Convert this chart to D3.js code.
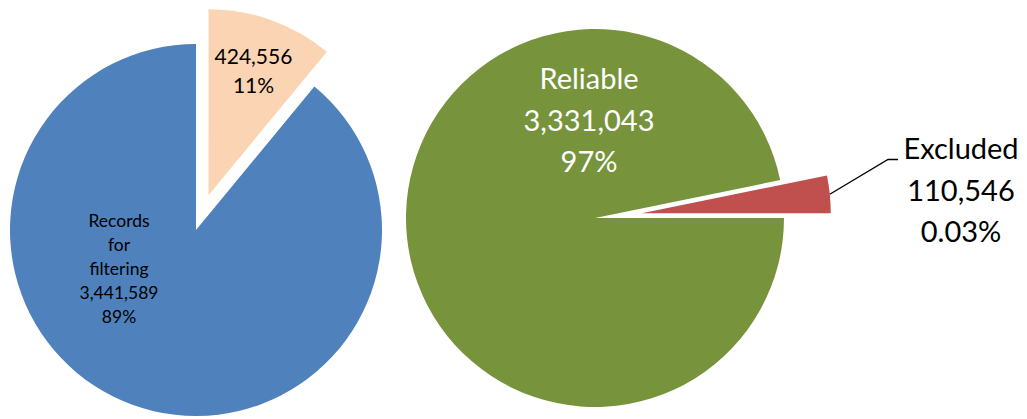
<!DOCTYPE html>
<html>
<head>
<meta charset="utf-8">
<script src="https://cdn.jsdelivr.net/npm/d3@7"></script>
<style>
  html, body { margin: 0; padding: 0; background: #fff; }
  svg { display: block; }
  text { font-family: Lato, "Open Sans", sans-serif; }
</style>
</head>
<body>
<svg id="chart" width="1027" height="419"></svg>
<script>
// Records split: records sent to filtering vs. the rest
const filterNames = ["", "Records|for|filtering"];
const filterValues = [424556, 3441589];
const filterPercents = ["11%", "89%"];
const filterColors = ["#FBD4B4", "#4F81BD"];

// Filtering outcome: reliable vs. excluded
const outcomeNames = ["Reliable", "Excluded"];
const outcomeValues = [3331043, 110546];
const outcomePercents = ["97%", "0.03%"];
const outcomeColors = ["#77933C", "#C0504D"];

const fmt = d3.format(",");
const svg = d3.select("#chart");

function drawPie(cfg) {
  const pie = d3.pie().sort(null).value(d => d.value)
    .startAngle(cfg.start).endAngle(cfg.start + 2 * Math.PI);
  const arcs = pie(cfg.rows);
  const arc = d3.arc().innerRadius(0).outerRadius(cfg.r);
  const g = svg.append("g").attr("transform", `translate(${cfg.cx},${cfg.cy})`);

  const slice = g.selectAll("g.slice").data(arcs).join("g")
    .attr("class", "slice")
    .attr("transform", d => {
      const off = d.data.explode || 0;
      const a = (d.startAngle + d.endAngle) / 2;
      return `translate(${off * Math.sin(a)},${-off * Math.cos(a)})`;
    });

  slice.append("path").attr("d", arc).attr("fill", d => d.data.color);
  return { g, slice, arcs };
}

// Left pie
const left = drawPie({
  cx: 196, cy: 230, r: 186, start: 0,
  rows: filterValues.map((v, i) => ({
    name: filterNames[i], value: v, pct: filterPercents[i],
    color: filterColors[i], explode: i === 0 ? 37 : 0
  }))
});

// Right pie
const right = drawPie({
  cx: 595, cy: 218, r: 189, start: Math.PI / 2,
  rows: outcomeValues.map((v, i) => ({
    name: outcomeNames[i], value: v, pct: outcomePercents[i],
    color: outcomeColors[i], explode: i === 1 ? 47 : 0
  }))
});

function multiline(parent, x, y, lines, size, lineH, color) {
  const t = parent.append("text")
    .attr("text-anchor", "middle")
    .attr("font-size", size)
    .attr("fill", color);
  lines.forEach((s, i) => {
    t.append("tspan").attr("x", x).attr("y", y + i * lineH).text(s);
  });
  return t;
}

// Left pie labels
left.slice.each(function(d, i) {
  const el = d3.select(this);
  if (i === 0) {
    const a = (d.startAngle + d.endAngle) / 2;
    const rr = 133;
    multiline(el, rr * Math.sin(a), -rr * Math.cos(a) - 6,
      [fmt(d.data.value), d.data.pct], 21, 29, "#000");
  } else {
    const lines = d.data.name.split("|").concat([fmt(d.data.value), d.data.pct]);
    multiline(el, -77, -3, lines, 17.5, 24, "#000");
  }
});

// Right pie labels
right.slice.each(function(d, i) {
  const el = d3.select(this);
  if (i === 0) {
    multiline(el, -6, -129, [d.data.name, fmt(d.data.value), d.data.pct], 29, 41.5, "#fff");
  }
});

// Excluded label with leader line
const ex = right.arcs[1];
const exA = (ex.startAngle + ex.endAngle) / 2;
const exOff = 47;
const exX = 595 + exOff * Math.sin(exA) + 189 * Math.sin(exA);
const exY = 218 - exOff * Math.cos(exA) - 189 * Math.cos(exA);
svg.append("path")
  .attr("d", `M${exX},${exY}L888,159.5L898,159.5`)
  .attr("fill", "none").attr("stroke", "#000").attr("stroke-width", 1.3);
multiline(svg, 961, 159,
  [ex.data.name, fmt(ex.data.value), ex.data.pct], 29, 41.5, "#000");
</script>
</body>
</html>
